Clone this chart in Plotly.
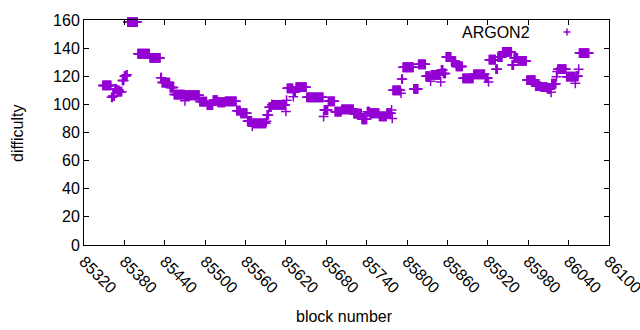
import numpy as np
import plotly.graph_objects as go

# Runs of constant difficulty: first block, last block, difficulty
run_start = [85348, 85361, 85363, 85366, 85369, 85373, 85377, 85380, 85383, 85385,
             85400, 85418, 85434, 85436, 85448, 85454, 85470, 85471, 85492, 85503,
             85512, 85519, 85530, 85547, 85553, 85563, 85570, 85571, 85591, 85592,
             85595, 85599, 85600, 85620, 85621, 85622, 85631, 85632, 85635, 85651,
             85676, 85677, 85683, 85693, 85703, 85721, 85733, 85741, 85745, 85759,
             85770, 85777, 85778, 85779, 85791, 85792, 85794, 85810, 85817, 85828,
             85835, 85836, 85850, 85851, 85854, 85858, 85866, 85873, 85883, 85899,
             85916, 85921, 85922, 85932, 85935, 85942, 85956, 85959, 85965, 85978,
             85991, 85999, 86009, 86014, 86015, 86022, 86023, 86024, 86037, 86050,
             86051, 86055, 86056]
run_end = [85360, 85362, 85365, 85368, 85372, 85376, 85379, 85382, 85384, 85399,
           85417, 85433, 85435, 85447, 85453, 85469, 85470, 85491, 85502, 85511,
           85518, 85529, 85546, 85552, 85562, 85569, 85570, 85590, 85591, 85594,
           85598, 85599, 85619, 85620, 85621, 85630, 85631, 85634, 85650, 85675,
           85676, 85682, 85692, 85702, 85720, 85732, 85740, 85744, 85758, 85769,
           85776, 85777, 85778, 85790, 85791, 85793, 85809, 85816, 85827, 85834,
           85835, 85849, 85850, 85853, 85857, 85865, 85872, 85882, 85898, 85915,
           85920, 85921, 85931, 85934, 85941, 85955, 85958, 85964, 85977, 85990,
           85998, 86008, 86013, 86014, 86021, 86022, 86023, 86036, 86049, 86050,
           86054, 86055, 86070]
run_value = [113.5, 105, 106, 111, 110, 109, 117, 120, 121, 158.5,
             136, 133, 119, 115.5, 112, 107, 102.5, 106.5, 102, 99.5,
             103, 101.5, 102.2, 95.5, 93.7, 88.2, 84.5, 86.5, 88, 92.5,
             98, 100, 99.6, 95, 103, 111.4, 105.5, 108.8, 112.2, 105,
             91.3, 96, 102.2, 94.8, 96.5, 93.4, 89.4, 94.8, 93.7, 91.5,
             93.7, 96, 90, 110, 108, 118, 126.4, 111, 128.5, 120,
             116.5, 121, 116, 124.5, 122, 133.7, 130.6, 127, 118.5, 121.4,
             118.8, 116, 131.8, 125, 133.7, 137.3, 128, 133, 130.9, 117.3,
             113, 112.2, 111, 108.6, 114.7, 119.7, 123.3, 125, 119.7, 115,
             120, 125, 136.5]

x_ticks = [85320, 85380, 85440, 85500, 85560, 85620, 85680, 85740,
           85800, 85860, 85920, 85980, 86040, 86100]
y_ticks = [0, 20, 40, 60, 80, 100, 120, 140, 160]

blocks = []
difficulty = []
for s, e, v in zip(run_start, run_end, run_value):
    for b in range(s, e + 1):
        blocks.append(b)
        difficulty.append(v)

COLOR = "#9400D3"
FONT = "Liberation Sans, Arial, sans-serif"
L, R, T, B = 84, 609, 20, 245
W, H = 640, 330

fig = go.Figure()
fig.add_trace(go.Scatter(
    x=blocks, y=difficulty, mode="markers", name="ARGON2",
    marker=dict(symbol="cross-thin-open", size=7, color=COLOR,
                line=dict(width=1.5, color=COLOR)),
    showlegend=False, cliponaxis=False,
))

axis_common = dict(
    showline=True, linecolor="black", linewidth=1, mirror="ticks",
    ticks="inside", ticklen=5, tickcolor="black", showgrid=False,
    zeroline=False, automargin=False, ticklabeloverflow="allow",
    tickfont=dict(family=FONT, size=16, color="black"),
)
fig.update_xaxes(range=[85320, 86100], tickvals=x_ticks,
                 ticktext=[str(t) for t in x_ticks], tickangle=45, **axis_common)
fig.update_yaxes(range=[0, 160], tickvals=y_ticks, **axis_common)

def px(x):
    return (x - L) / (R - L)

def py(y):
    return (B - y) / (B - T)

# axis titles
fig.add_annotation(xref="paper", yref="paper", x=px(17), y=py(133), text="difficulty",
                   textangle=-90, showarrow=False, xanchor="center", yanchor="middle",
                   font=dict(family=FONT, size=16, color="black"))
fig.add_annotation(xref="paper", yref="paper", x=px(344), y=py(316), text="block number",
                   showarrow=False, xanchor="center", yanchor="middle",
                   font=dict(family=FONT, size=16, color="black"))

# Legend as in gnuplot: text then sample
fig.add_annotation(xref="paper", yref="paper", x=px(532), y=py(32),
                   text="ARGON2", showarrow=False, xanchor="right", yanchor="middle",
                   font=dict(family=FONT, size=16, color="black"))
cx, cy, h = px(567), py(32), 3.5
fig.add_shape(type="line", xref="paper", yref="paper", x0=cx - h / (R - L), x1=cx + h / (R - L),
              y0=cy, y1=cy, line=dict(color=COLOR, width=1.5))
fig.add_shape(type="line", xref="paper", yref="paper", x0=cx, x1=cx,
              y0=cy - h / (B - T), y1=cy + h / (B - T), line=dict(color=COLOR, width=1.5))

fig.update_layout(
    width=W, height=H,
    margin=dict(l=L, r=W - R, t=T, b=H - B),
    paper_bgcolor="white", plot_bgcolor="white",
    font=dict(family=FONT, size=16, color="black"),
)
fig.write_html("out.html", config={"displayModeBar": False},
               post_script="document.body.style.margin='0';document.body.style.overflow='hidden';")
